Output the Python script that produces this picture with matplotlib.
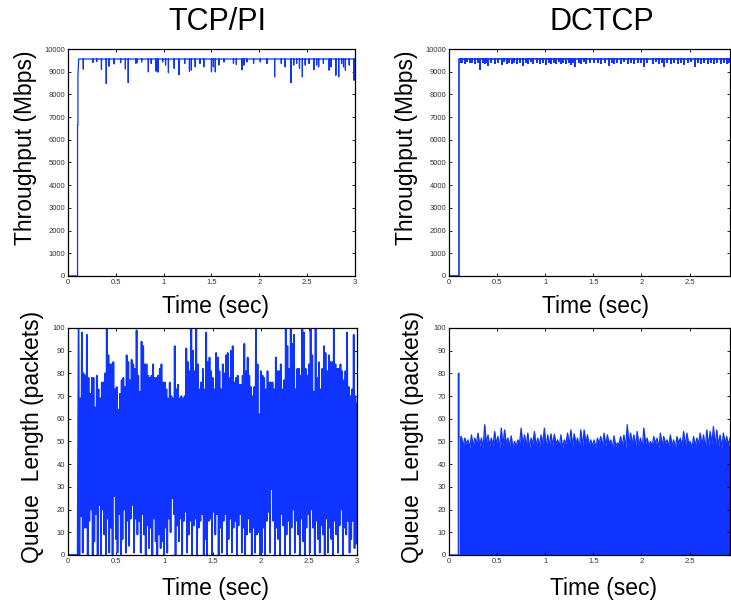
import numpy as np
import matplotlib
matplotlib.use("Agg")
import matplotlib.pyplot as plt
from matplotlib.ticker import FormatStrFormatter

plt.rcParams['font.family'] = ['Liberation Sans', 'DejaVu Sans']

BLUE = '#1034ff'

# ---- TCP/PI throughput (Mbps): start-up ramp, steady level, downward dips ----
pi_thr_start_t = [0.0, 0.100, 0.100, 0.104, 0.104, 0.112]
pi_thr_start_v = [0, 0, 6650, 6650, 8850, 9560]
pi_thr_base = 9560
pi_dip_t = [0.16, 0.26, 0.30, 0.35, 0.40, 0.43, 0.48, 0.55, 0.60, 0.63,
            0.71, 0.72, 0.77, 0.84, 0.87, 0.92, 0.94, 0.99, 1.02, 1.05,
            1.11, 1.16, 1.22, 1.27, 1.29, 1.33, 1.38, 1.42, 1.50, 1.52,
            1.54, 1.58, 1.63, 1.73, 1.76, 1.82, 1.84, 1.87, 1.94, 2.01,
            2.08, 2.16, 2.23, 2.27, 2.33, 2.36, 2.39, 2.42, 2.45, 2.48,
            2.52, 2.57, 2.60, 2.62, 2.67, 2.73, 2.75, 2.80, 2.83, 2.86,
            2.88, 2.90, 2.94, 2.99]
pi_dip_v = [9120, 9410, 9450, 9100, 8490, 9250, 9350, 9400, 9130, 8520,
            9380, 9400, 9440, 9000, 9370, 9030, 8990, 9440, 9300, 8960,
            9150, 8870, 9370, 9030, 9080, 9220, 9370, 9220, 9000, 9220,
            9000, 9300, 9440, 9370, 9320, 9090, 9300, 9440, 9370, 9440,
            9370, 8780, 9370, 9220, 8520, 9300, 9370, 9150, 8780, 9300,
            9370, 9090, 9300, 9220, 9370, 9075, 9220, 8850, 8780, 9370,
            9220, 9075, 9300, 8630]

# ---- DCTCP throughput (Mbps) ----
dc_thr_start_t = [0.0, 0.100, 0.100]
dc_thr_start_v = [0, 0, 9540]
dc_thr_base = 9540
dc_dip_t = [0.166, 0.218, 0.270, 0.322, 0.373, 0.408, 0.477, 0.546, 0.598, 0.650,
            0.702, 0.771, 0.823, 0.875, 0.944, 1.013, 1.065, 1.117, 1.169, 1.221,
            1.273, 1.314, 1.376, 1.428, 1.511, 1.580, 1.667, 1.719, 1.788, 1.857,
            1.926, 2.030, 2.116, 2.185, 2.237, 2.306, 2.375, 2.445, 2.555, 2.617,
            2.687, 2.756, 2.825, 2.894]
dc_dip_v = [9370, 9440, 9370, 9120, 9370, 9300, 9370, 9320, 9370, 9370,
            9370, 9300, 9370, 9370, 9370, 9320, 9370, 9370, 9370, 9370,
            9320, 9270, 9370, 9370, 9440, 9370, 9300, 9370, 9370, 9370,
            9370, 9270, 9370, 9370, 9270, 9370, 9370, 9320, 9270, 9370,
            9370, 9370, 9370, 9370]
dc_small_t = [0.12, 0.14, 0.19, 0.24, 0.30, 0.35, 0.39, 0.44, 0.51, 0.57, 0.62,
              0.68, 0.74, 0.80, 0.85, 0.91, 0.98, 1.04, 1.09, 1.14, 1.19,
              1.25, 1.29, 1.35, 1.40, 1.47, 1.55, 1.62, 1.69, 1.75, 1.82,
              1.89, 1.96, 2.00, 2.06, 2.15, 2.21, 2.27, 2.34, 2.41, 2.48,
              2.52, 2.59, 2.65, 2.72, 2.79, 2.86, 2.91]
dc_small_v = [9450, 9440, 9460, 9430, 9450, 9440, 9420, 9450, 9440, 9460, 9430,
              9450, 9440, 9430, 9460, 9440, 9450, 9430, 9440, 9460, 9440,
              9430, 9450, 9440, 9460, 9430, 9450, 9440, 9430, 9450, 9460,
              9440, 9430, 9450, 9440, 9460, 9430, 9450, 9440, 9430, 9450,
              9460, 9440, 9430, 9450, 9440, 9430, 9450]

# ---- TCP/PI queue length (packets): local peaks and troughs, 0.11 .. 3.0 s ----
pi_q_hi = [100, 69, 98, 80, 79, 97, 78, 71, 78, 78, 65, 79, 73, 69, 76, 76, 80, 100,
           88, 84, 84, 85, 73, 74, 64, 71, 77, 78, 74, 88, 85, 77, 86, 84, 82, 99,
           79, 72, 94, 92, 84, 84, 79, 78, 79, 84, 78, 78, 79, 82, 84, 76,
           76, 73, 69, 76, 70, 69, 92, 73, 75, 69, 70, 69, 70, 91, 85, 81, 100, 90,
           81, 100, 84, 73, 76, 82, 73, 98, 85, 87, 81, 78, 73, 89, 87, 81, 73, 84,
           80, 88, 89, 78, 90, 92, 76, 78, 79, 75, 75, 79, 93, 81, 87, 79, 74, 70,
           74, 100, 84, 62, 81, 79,
           78, 73, 81, 76, 76, 76, 73, 87, 81, 81, 84, 73, 77, 100, 92, 82, 100, 93,
           97, 73, 82, 82, 79, 100, 98, 82, 79, 84, 100, 88, 72, 100, 78, 85, 73, 82,
           92, 89, 81, 88, 85, 85, 100, 84, 82, 82, 84, 81, 77, 81, 98, 74, 70, 73,
           97, 70, 67]
pi_q_lo = [0, 17, 1, 12, 12, 0, 15, 20, 0, 6, 18, 0, 22, 0, 20, 9, 0, 16, 1, 12,
           0, 26, 7, 1, 18, 0, 7, 20, 1, 15, 4, 16, 22, 1, 16, 9, 15, 1, 18, 9,
           0, 13, 3, 12, 0, 16, 6, 0, 9, 3, 6,
           0, 12, 1, 16, 10, 25, 18, 0, 13, 6, 16, 0, 15, 19, 1, 9, 15, 0, 13, 16,
           0, 12, 15, 18, 0, 7, 0, 15, 16, 0, 19, 9, 18, 0, 12, 1, 15, 18, 0, 7,
           16, 1, 12, 15, 0, 13, 18, 1, 12, 0, 9, 16, 10, 0, 12, 1, 9, 10, 0,
           1, 12, 0, 15, 19, 1, 29, 15, 0, 12, 7, 0, 18, 13, 0, 9, 15, 0, 12, 20,
           1, 15, 9, 0, 16, 6, 0, 12, 18, 1, 20, 12, 0, 15, 7, 1, 13, 9, 0, 16,
           1, 12, 7, 0, 15, 9, 1, 13, 20, 0, 12, 9, 15, 1, 7, 15, 3, 5]

# ---- DCTCP queue length (packets): first spike, then top edge 0.13 .. 2.92 s ----
dc_q_spike = 80
dc_q_top = [52, 51.5, 50.7, 52.9, 51.5, 53.7, 51.5, 57.4, 52.9, 51.5, 54.4, 52.2,
            55.9, 55.1, 51.5, 52.5, 50, 50.7, 55.9, 52.9, 53.7, 51.5, 54.4, 51.5,
            52.9, 55.9, 52.9, 53.4, 53.2, 50.7, 52.9, 50.7, 53.7, 55.1, 53.4, 51.5,
            55.1, 55.1, 52.9, 50.7, 50.7, 51.5, 52.2, 53.7, 52.9, 50.7, 52.5, 49.3,
            52.2, 52.9, 57.4, 53.7, 52.9, 54.4, 51.5, 55.9, 51.5, 50, 52.2, 51.5,
            53.7, 52.2, 50.7, 52.9, 50.7, 52.2, 51.5, 54.4, 53.7, 50, 52.2, 51.5,
            53.7, 52.9, 55.1, 54.4, 56.6, 55.1, 52.9, 53.7, 52.2, 51.5]
dc_q_low_edge = [48, 49, 47, 48, 49, 48, 47, 49, 48, 48, 49, 47, 48, 49, 48, 47,
                 48, 49, 48, 48, 47, 49, 48, 48, 49, 47, 48, 48, 49, 48, 47, 49,
                 48, 48, 49, 47, 48, 49, 48, 48, 47, 49, 48, 48, 49, 47, 48, 49,
                 48, 47, 48, 49, 48, 48, 47, 49, 48, 48, 49, 47, 48, 49, 48, 48,
                 47, 49, 48, 48, 49, 47, 48, 49, 48, 47, 48, 49, 48, 48, 47, 49,
                 48]


def style_axes(ax, xmax, ymax, ystep, xticks):
    ax.set_xlim(0, xmax)
    ax.set_ylim(0, ymax)
    ax.set_xticks(xticks)
    ax.set_yticks(np.arange(0, ymax + ystep / 2, ystep))
    ax.xaxis.set_major_formatter(FormatStrFormatter('%g'))
    ax.yaxis.set_major_formatter(FormatStrFormatter('%g'))
    ax.tick_params(direction='in', top=True, right=True, length=2.5, width=0.6,
                   labelsize=5.5, labelcolor='#333333', pad=2)
    for s in ax.spines.values():
        s.set_linewidth(0.9)


def dip_line(start_t, start_v, base, dip_t, dip_v, t_end):
    xs = list(start_t)
    ys = list(start_v)
    for t, v in sorted(zip(dip_t, dip_v)):
        xs += [t, t, t]
        ys += [base, v, base]
    xs.append(t_end)
    ys.append(base)
    return xs, ys


def main():
    fig = plt.figure(figsize=(7.31, 6.06), dpi=100)
    ax_tl = fig.add_axes([0.0930, 0.5446, 0.3926, 0.3745])
    ax_tr = fig.add_axes([0.6142, 0.5446, 0.3844, 0.3745])
    ax_bl = fig.add_axes([0.0930, 0.0842, 0.3954, 0.3746])
    ax_br = fig.add_axes([0.6142, 0.0842, 0.3844, 0.3746])

    # TCP/PI throughput
    x, y = dip_line(pi_thr_start_t, pi_thr_start_v, pi_thr_base, pi_dip_t, pi_dip_v, 3.0)
    ax_tl.plot(x, y, color=BLUE, lw=0.9)
    style_axes(ax_tl, 3, 10000, 1000, np.arange(0, 3.01, 0.5))

    # DCTCP throughput
    x, y = dip_line(dc_thr_start_t, dc_thr_start_v, dc_thr_base,
                    dc_dip_t + dc_small_t, dc_dip_v + dc_small_v, 2.92)
    ax_tr.plot(x, y, color=BLUE, lw=1.2)
    style_axes(ax_tr, 2.92, 10000, 1000, np.arange(0, 2.51, 0.5))

    # TCP/PI queue: zigzag alternating peak / trough
    t_hi = np.linspace(0.11, 3.0, len(pi_q_hi))
    t_lo = (t_hi[:-1] + t_hi[1:]) / 2
    zz_t = [0.0, 0.1]
    zz_v = [0, 0]
    for i in range(len(pi_q_lo)):
        zz_t += [t_hi[i], t_lo[i]]
        zz_v += [pi_q_hi[i], pi_q_lo[i]]
    zz_t.append(t_hi[-1])
    zz_v.append(pi_q_hi[-1])
    ax_bl.plot(zz_t, zz_v, color=BLUE, lw=1.25)
    style_axes(ax_bl, 3, 100, 10, np.arange(0, 3.01, 0.5))

    # DCTCP queue: solid band with jagged top
    t_top = np.linspace(0.13, 2.92, len(dc_q_top))
    t_low = np.linspace(0.147, 2.905, len(dc_q_low_edge))
    tq = np.concatenate([[0.0, 0.097, 0.097, 0.104, 0.104], t_top, t_low])
    vq = np.concatenate([[0, 0, dc_q_spike, dc_q_spike, 52], dc_q_top, dc_q_low_edge])
    order = np.argsort(tq, kind='stable')
    tq, vq = tq[order], vq[order]
    ax_br.fill_between(tq[3:], 0, vq[3:], color=BLUE, lw=0)
    ax_br.plot(tq, vq, color=BLUE, lw=0.9)
    style_axes(ax_br, 2.92, 100, 10, np.arange(0, 2.51, 0.5))

    # titles and labels
    fig.text(217 / 731, 1 - 22 / 606, 'TCP/PI', fontsize=22, ha='center', va='center')
    fig.text(602 / 731, 1 - 22 / 606, 'DCTCP', fontsize=22, ha='center', va='center')
    lab = dict(fontsize=16.5, ha='center', va='center')
    fig.text(26 / 731, 1 - 148 / 606, 'Throughput (Mbps)', rotation=90, **lab)
    fig.text(406 / 731, 1 - 148 / 606, 'Throughput (Mbps)', rotation=90, **lab)
    fig.text(33 / 731, 1 - 437 / 606, 'Queue  Length (packets)', rotation=90, **lab)
    fig.text(412 / 731, 1 - 437 / 606, 'Queue  Length (packets)', rotation=90, **lab)
    fig.text(215 / 731, 1 - 307 / 606, 'Time (sec)', **lab)
    fig.text(595 / 731, 1 - 307 / 606, 'Time (sec)', **lab)
    fig.text(215 / 731, 1 - 588 / 606, 'Time (sec)', **lab)
    fig.text(604 / 731, 1 - 588 / 606, 'Time (sec)', **lab)

    fig.savefig('out.png', dpi=100)


if __name__ == '__main__':
    main()
